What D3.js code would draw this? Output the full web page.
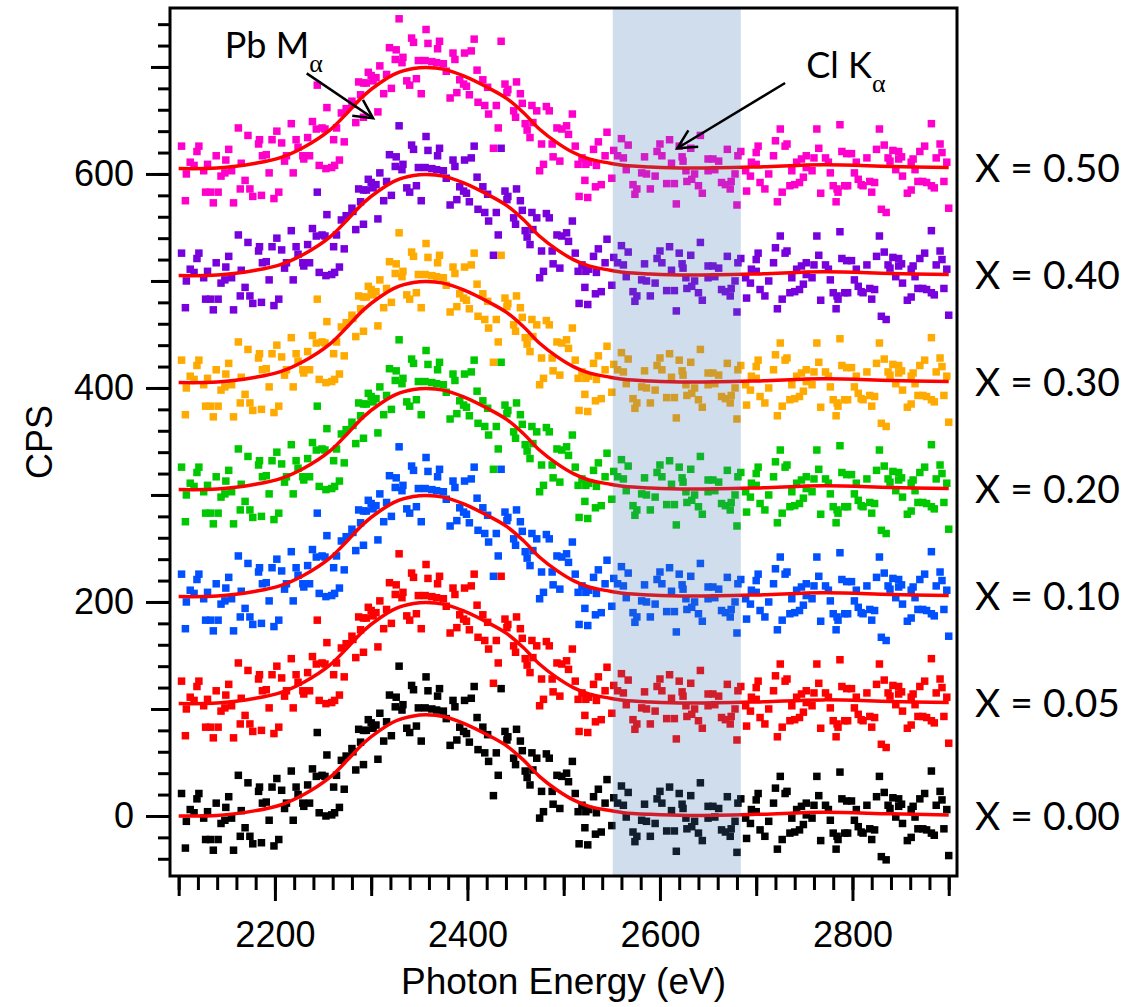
<!DOCTYPE html>
<html>
<head>
<meta charset="utf-8">
<script src="https://cdnjs.cloudflare.com/ajax/libs/d3/7.8.5/d3.min.js"></script>
<style>
  body { margin: 0; background: #fff; }
  .tick text { font-family: "Liberation Sans", Arial, sans-serif; }
</style>
</head>
<body>
<div id="chart"></div>
<script>
// Measured spectrum (X = 0.00), photon energy in eV and counts per second
var energy = [
  2103,2107,2112,2116,2108,2121,2119,2126,2130,2128,2133,2136,2141,2139,2152,2149,2144,2148,2155,2157,
  2162,2165,2172,2169,2164,2174,2177,2183,2184,2187,2191,2194,2186,2197,2202,2207,2199,2204,2212,2210,
  2217,2219,2222,2224,2229,2230,2234,2236,2239,2243,2249,2252,2246,2253,2244,2254,
  2329,2357,2342,2344,2359,2371,2369,2319,2326,2407,2385,2387,2397,2404,2325,2333,2332,2309,2349,2356,
  2363,2368,2375,2378,2297,2300,2305,2302,2287,2292,2295,2316,2337,2340,2347,2321,2313,2410,2392,2396,
  2399,2416,2421,2352,2389,2382,2402,2289,2280,2281,2307,2274,2269,2292,2284,2411,2418,2422,2264,2261,
  2272,2267,2262,2259,
  2435,2439,2442,2451,2441,2455,2430,2457,2448,2450,2467,2472,2482,2485,2460,2462,2465,2432,2468,2427,
  2477,2488,2493,2498,2503,2505,2509,2489,2496,2512,2479,2475,2515,2519,2526,2531,2536,2523,2534,2543,
  2545,2522,2533,2539,2550,2552,2516,2525,2560,2567,2556,2562,2565,2572,2576,2574,2584,2581,2586,
  2595,2590,2600,2597,2602,2610,2612,2620,2623,2624,2632,2627,2628,2607,2615,2642,2636,2633,2640,2644,
  2617,2650,2655,2661,2650,2657,2670,2664,2668,2674,2678,2673,2680,2684,2681,2689,2694,2690,2700,2702,
  2700,2695,2704,2709,2713,2718,2720,2725,2730,2732,2727,2722,2737,2742,2747,2752,2735,2740,2745,2749,
  2752,
  2760,2765,2763,2758,2772,2775,2777,2767,2780,2784,2785,2783,2792,2795,2787,2789,2794,2799,2804,2802,
  2806,2809,2811,2815,2818,2823,2820,2828,2825,2833,2830,2835,2837,2839,2842,2848,2848,2851,2845,2852,
  2861,2863,2865,2857,2861,2870,2875,2868,2873,2877,2882,2885,2882,2887,2891,2893,2895,2898,2900
];
var counts = [
  21,-30,6,3,-5,21,16,-2,4,-22,-22,-32,-22,12,18,8,-7,-4,-2,-32,
  38,5,31,-11,-19,-19,-26,23,27,12,13,-4,-25,27,35,24,-28,-22,12,7,
  42,-4,27,20,12,9,29,12,44,37,38,37,3,0,78,57,
  140,130,122,118,117,119,112,113,111,121,108,102,108,110,102,104,99,96,101,101,
  100,99,98,91,90,87,85,82,81,80,80,88,82,78,84,75,70,92,83,79,
  77,83,76,70,71,66,69,69,63,60,53,56,52,48,43,62,59,51,38,27,
  25,8,3,1,
  119,79,74,81,71,70,59,61,54,48,59,54,58,54,42,36,29,38,43,19,
  23,23,38,37,40,32,51,11,7,21,4,-2,4,10,6,18,25,4,3,12,
  34,-11,-17,-15,-9,17,-26,-27,28,22,12,10,-1,-15,-19,-24,11,-4,-5,
  -7,-19,23,16,12,27,5,21,11,7,19,-2,-12,-14,-14,31,-5,-10,-16,-23,
  -33,9,9,7,-2,-1,18,-13,-15,-12,-5,-19,-34,16,12,-2,-7,-21,15,21,
  4,6,-13,-19,-5,12,26,37,21,23,-22,-31,-2,6,9,12,-16,-15,-13,-8,
  1,
  10,19,37,-2,10,6,-4,-23,-16,-19,-22,-31,-16,-16,41,16,14,14,6,-4,
  -10,-15,-16,10,-12,-13,-22,37,18,22,-38,-41,10,7,17,16,9,11,-1,-7,
  6,9,-1,-23,-20,16,21,-12,-12,-13,-16,-18,42,10,23,15,-12,6,-37
];

var fitEnergy = [2100,2140,2180,2205,2230,2257,2275,2292,2309,2326,2344,2357,2375,2396,2423,2441,2458,2475,2493,2510,2527,2545,2562,2590,2630,2700,2770,2840,2900];
var fitCounts = [0,0.5,5,10,20,36,52,68,80,89,93.5,94.5,93,86.6,74.8,65.4,52.4,36.8,24.3,15,8.8,5.6,3.1,1.5,0.5,1.5,3.5,2,1];

// Waterfall: one trace per composition, stacked with a vertical offset
var seriesLabels = ["X = 0.00", "X = 0.05", "X = 0.10", "X = 0.20", "X = 0.30", "X = 0.40", "X = 0.50"];
var seriesOffsets = [0, 105, 205, 305, 405, 505, 605];
var seriesColors = ["#000000", "#ff0000", "#0050ff", "#00c800", "#ffaa00", "#7800dc", "#ff00cc"];

// Cl K-alpha window
var bandRange = [2551, 2684];

// Axis ticks
var xLabelTicks = [2200, 2400, 2600, 2800];
var yLabelTicks = [0, 200, 400, 600];

var svgWidth = 1138;
var svgHeight = 1007;
var margin = { top: 8, right: 181, bottom: 131, left: 170 };
var width = svgWidth - margin.left - margin.right;
var height = svgHeight - margin.top - margin.bottom;

var svg = d3.select("#chart")
  .append("svg")
  .attr("width", svgWidth)
  .attr("height", svgHeight);

var chartGroup = svg.append("g")
  .attr("transform", `translate(${margin.left}, ${margin.top})`);

var xScale = d3.scaleLinear().domain([2091, 2908.6]).range([0, width]);
var yScale = d3.scaleLinear().domain([-56.1, 755.1]).range([height, 0]);

// tick sets
var xMinor = d3.range(2100, 2901, 20);
var xMid = d3.range(2100, 2901, 200);
var yMinor = d3.range(-40, 741, 20);
var yMid = d3.range(100, 701, 200);

function styleAxis(g) {
  g.select(".domain").remove();
  g.selectAll(".tick line").attr("stroke", "#000").attr("stroke-width", 3);
}

chartGroup.append("g")
  .attr("transform", `translate(0, ${height})`)
  .call(d3.axisBottom(xScale).tickValues(xMinor).tickSize(14).tickFormat(""))
  .call(styleAxis);
chartGroup.append("g")
  .attr("transform", `translate(0, ${height})`)
  .call(d3.axisBottom(xScale).tickValues(xMid).tickSize(20).tickFormat(""))
  .call(styleAxis);
var xAxis = chartGroup.append("g")
  .attr("transform", `translate(0, ${height})`)
  .call(d3.axisBottom(xScale).tickValues(xLabelTicks).tickSize(25).tickPadding(20).tickFormat(d3.format("d")))
  .call(styleAxis);
xAxis.selectAll(".tick text").attr("font-size", "36px").attr("fill", "#000");

chartGroup.append("g")
  .call(d3.axisLeft(yScale).tickValues(yMinor).tickSize(12).tickFormat(""))
  .call(styleAxis);
chartGroup.append("g")
  .call(d3.axisLeft(yScale).tickValues(yMid).tickSize(19).tickFormat(""))
  .call(styleAxis);
var yAxis = chartGroup.append("g")
  .call(d3.axisLeft(yScale).tickValues(yLabelTicks).tickSize(24).tickPadding(12).tickFormat(d3.format("d")))
  .call(styleAxis);
yAxis.selectAll(".tick text").attr("font-size", "36px").attr("fill", "#000");

// build the traces
var traces = seriesLabels.map(function(label, i) {
  return {
    label: label,
    color: seriesColors[i],
    offset: seriesOffsets[i],
    points: energy.map(function(e, j) { return { e: e, c: counts[j] + seriesOffsets[i] }; }),
    fit: fitEnergy.map(function(e, j) { return { e: e, c: fitCounts[j] + seriesOffsets[i] }; })
  };
});

var markSize = 7.5;
var traceGroups = chartGroup.selectAll(".trace")
  .data(traces)
  .enter()
  .append("g")
  .classed("trace", true);

traceGroups.selectAll("rect")
  .data(function(d) { return d.points.map(function(p) { return { e: p.e, c: p.c, color: d.color }; }); })
  .enter()
  .append("rect")
  .attr("x", d => xScale(d.e) - markSize / 2)
  .attr("y", d => yScale(d.c) - markSize / 2)
  .attr("width", markSize)
  .attr("height", markSize)
  .attr("fill", d => d.color);

var fitLine = d3.line()
  .x(d => xScale(d.e))
  .y(d => yScale(d.c))
  .curve(d3.curveCatmullRom.alpha(0.5));

chartGroup.selectAll(".fit")
  .data(traces)
  .enter()
  .append("path")
  .classed("fit", true)
  .attr("d", d => fitLine(d.fit))
  .attr("fill", "none")
  .attr("stroke", "#ff0000")
  .attr("stroke-width", 3.5);

// shaded Cl K window (drawn over the data, semi transparent)
chartGroup.append("rect")
  .attr("x", xScale(bandRange[0]))
  .attr("y", 0)
  .attr("width", xScale(bandRange[1]) - xScale(bandRange[0]))
  .attr("height", height)
  .attr("fill", "rgb(68,120,180)")
  .attr("fill-opacity", 0.25);

// frame
chartGroup.append("rect")
  .attr("x", 0)
  .attr("y", 0)
  .attr("width", width)
  .attr("height", height)
  .attr("fill", "none")
  .attr("stroke", "#000")
  .attr("stroke-width", 3);

// trace labels on the right
chartGroup.selectAll(".seriesLabel")
  .data(traces)
  .enter()
  .append("text")
  .classed("seriesLabel", true)
  .attr("x", width + 18)
  .attr("y", d => yScale(d.offset))
  .attr("dy", "0.35em")
  .attr("font-family", "Lato, 'Open Sans', sans-serif")
  .attr("font-size", "39px")
  .attr("fill", "#000")
  .text(d => d.label);

// annotations
function arrow(from, to) {
  var x1 = xScale(from[0]), y1 = yScale(from[1]);
  var x2 = xScale(to[0]), y2 = yScale(to[1]);
  var ang = Math.atan2(y1 - y2, x1 - x2);
  var len = 21, spread = 27 * Math.PI / 180;
  chartGroup.append("line")
    .attr("x1", x1).attr("y1", y1).attr("x2", x2).attr("y2", y2)
    .attr("stroke", "#000").attr("stroke-width", 2.5);
  var head = [
    [x2 + len * Math.cos(ang + spread), y2 + len * Math.sin(ang + spread)],
    [x2, y2],
    [x2 + len * Math.cos(ang - spread), y2 + len * Math.sin(ang - spread)]
  ];
  chartGroup.append("path")
    .attr("d", d3.line()(head))
    .attr("fill", "none")
    .attr("stroke", "#000")
    .attr("stroke-width", 2.5);
}

function label(pos, main, sub) {
  var t = chartGroup.append("text")
    .attr("x", xScale(pos[0]))
    .attr("y", yScale(pos[1]))
    .attr("font-family", "Lato, 'Open Sans', sans-serif")
    .attr("font-size", "36px")
    .attr("fill", "#000");
  t.append("tspan").text(main);
  t.append("tspan")
    .attr("dy", 14)
    .attr("font-family", "'Liberation Serif', serif")
    .attr("font-size", "26px")
    .text(sub);
}

label([2148, 708], "Pb M", "α");
arrow([2233, 694], [2302, 652]);
label([2752, 690], "Cl K", "α");
arrow([2730, 685], [2618, 624]);

// axis titles
svg.append("text")
  .attr("x", margin.left + width / 2)
  .attr("y", 994)
  .attr("text-anchor", "middle")
  .attr("font-family", "'Liberation Sans', Arial, sans-serif")
  .attr("font-size", "37px")
  .text("Photon Energy (eV)");

svg.append("text")
  .attr("transform", `translate(52, ${margin.top + height / 2}) rotate(-90)`)
  .attr("text-anchor", "middle")
  .attr("font-family", "'Liberation Sans', Arial, sans-serif")
  .attr("font-size", "36px")
  .text("CPS");
</script>
</body>
</html>
